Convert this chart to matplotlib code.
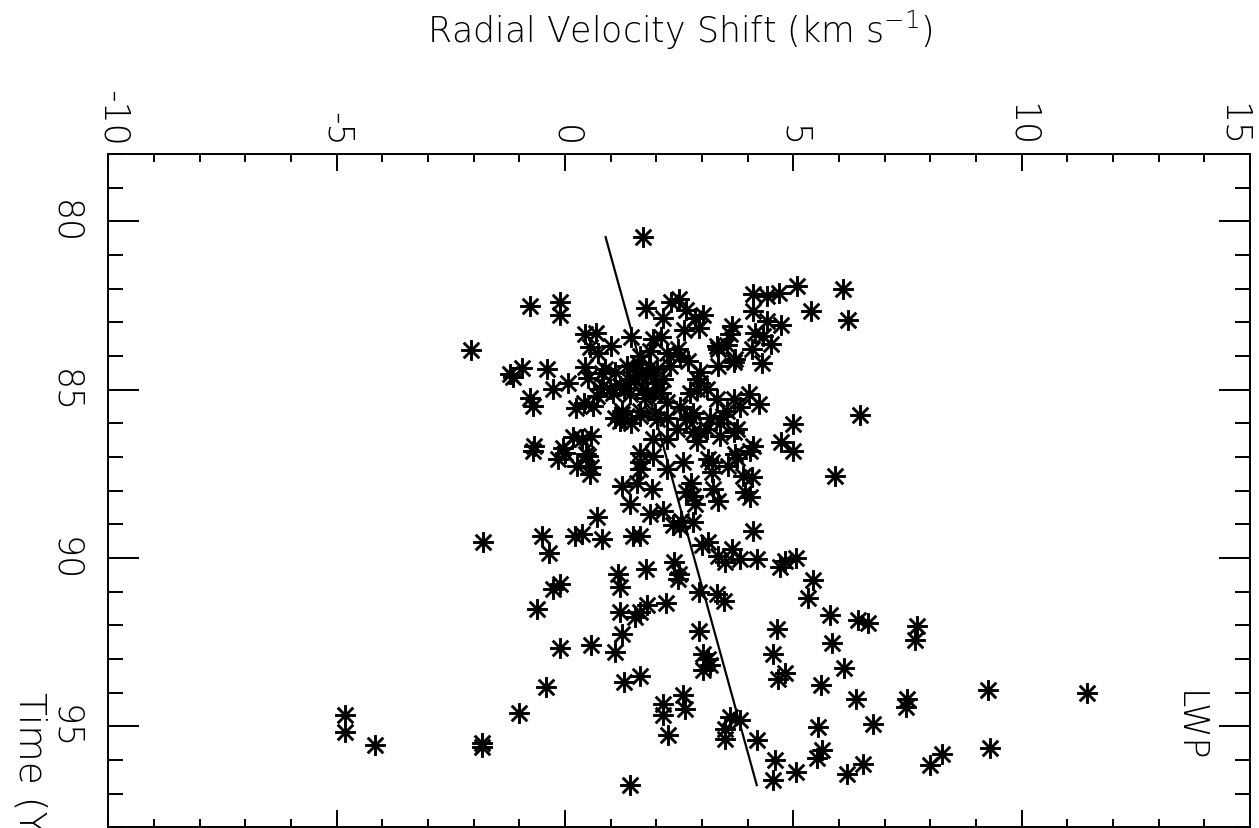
"""Radial velocity shift vs time (LWP), rotated IDL-style scatter with linear trend."""

import matplotlib
matplotlib.use("Agg")
import matplotlib.pyplot as plt
import matplotlib.transforms as mtransforms
from matplotlib.path import Path
import numpy as np

# radial velocity shift (km/s) and epoch (years since 1900)
velocity = [
    1.71, 5.09, 6.09, 5.39, 6.19, 4.69, 4.42, 4.12, 4.12, 4.42,
    4.73, 4.16, 4.34, 4.51, 4.09, 4.32, 4.02, 4.25, 6.46, 4.99,
    4.74, 5.00, 4.12, 5.91, 4.09, 4.05, 4.12, 4.20, 4.71, 4.82,
    5.05, 5.44, 5.31, 5.80, 6.42, 6.64, 4.64, 7.70, 7.66, 5.84,
    4.56, 6.12, 4.82, 4.67, 5.60, 9.26, 11.42, 6.37, 7.48, 7.47,
    6.74, 5.55, 4.20, 5.62, 5.51, 9.31, 8.25, 7.99, 4.60, 5.05,
    4.56, 6.53, 6.18,
    -1.79, -0.51, -0.36, 0.22, 0.37, 0.80, 0.69, 1.50, 1.64, 1.17,
    1.20, 1.77, 2.39, 2.50, 2.48, -0.11, -0.26, -0.61, 1.20, 1.79,
    1.53, 1.64, 2.21, 1.24, 1.09, 0.58, -0.12, -0.42, -1.00, -1.82,
    -1.82, 1.29, 1.64, 2.94, 3.03, 3.14, 3.02, 3.17, 2.94, 3.32,
    3.48, 2.14, 2.15, 2.58, 2.63, 2.25, 3.61, 3.83, 3.50, 3.50,
    1.42, 3.83, 3.50, 3.65, 3.36, 3.14, 2.99, 2.52, 2.55, 2.81,
    2.36, 2.15, 1.86, 1.42, 1.24, 1.57, 1.90, 2.59, 2.77, 2.81,
    2.66, 3.25, 3.36, 3.21, 3.14, 3.58, 3.90, 3.94, 3.76, 4.05,
    1.64, 0.51, 0.58, 0.55, 0.26, -0.15, -0.69, 0.00, 2.23, 1.93,
    -2.05, -0.77, -0.11, -0.12, 1.77, 2.15, 2.32, 2.50, 2.66, 2.85,
    3.03, 2.94, 2.61, 1.44, 0.43, 0.67, 0.55, 0.73, 1.00, 1.93,
    2.10, 2.47, -1.13, -0.95, -0.40, 0.07, -0.27, -0.77, -0.69, 0.44,
    0.51, 0.82, 0.69, 0.99, 0.24, 0.42, 0.62, 1.24, 1.20, -0.68,
    -0.05, 0.18, 0.37, 0.56, 0.47, 1.64, 1.93, 2.23, 2.74, 2.88,
    2.96, 3.36, 3.69, 3.32, 2.88, 3.32, 3.69, 2.66, 2.81, 3.10,
    3.39, 3.69, 3.72, 3.21, 2.23, 2.45, 2.01,
    3.65, 3.61, 3.36, 3.54, 3.72, 2.96, 2.70, 2.52, 2.23, 1.86,
    1.64, 1.35, 1.09, 0.88, 0.84, 1.20, 1.53, 1.79, 2.01, 2.15,
    1.71, 1.93, 1.42, 1.06, 2.52, 1.64, 1.24, 3.10, 3.83, 3.54,
    2.81, 0.77, -1.20,
    1.28, 1.64, 1.97, 2.23, 2.74, 3.18, 3.47, 2.96, 2.88, 3.39,
    3.76, 1.64, 2.85,
    -4.82, -4.82, -4.16,
    1.55, 1.85, 2.00, 1.40, 1.75, 2.10, 1.30, 1.60, 2.30, 1.10,
    1.45,
]
epoch = [
    80.47, 81.93, 82.02, 82.67, 82.94, 82.12, 82.22, 82.17, 82.67, 82.96,
    83.09, 83.31, 83.41, 83.63, 83.80, 84.22, 85.14, 85.43, 85.75, 86.03,
    86.55, 86.82, 86.67, 87.56, 87.61, 88.19, 89.19, 90.03, 90.28, 90.08,
    90.01, 90.67, 91.19, 91.71, 91.83, 91.93, 92.10, 92.01, 92.45, 92.52,
    92.85, 93.27, 93.41, 93.59, 93.77, 93.91, 94.01, 94.18, 94.18, 94.43,
    94.92, 95.02, 95.42, 95.71, 95.94, 95.66, 95.84, 96.16, 96.01, 96.35,
    96.60, 96.11, 96.43,
    89.52, 89.36, 89.85, 89.36, 89.29, 89.44, 88.79, 89.34, 89.34, 90.47,
    90.87, 90.33, 90.13, 90.47, 90.62, 90.77, 90.92, 91.51, 91.61, 91.41,
    91.76, 91.61, 91.33, 92.25, 92.80, 92.60, 92.68, 93.85, 94.60, 95.51,
    95.61, 93.69, 93.52, 92.18, 92.85, 92.99, 93.34, 93.19, 91.02, 91.07,
    91.29, 94.33, 94.68, 94.08, 94.50, 95.27, 94.72, 94.82, 95.07, 95.37,
    96.75, 90.03, 90.13, 89.73, 89.93, 89.53, 89.63, 89.09, 88.89, 88.94,
    89.02, 88.60, 88.70, 88.40, 87.86, 87.76, 87.95, 87.16, 87.76, 88.15,
    88.05, 87.95, 88.30, 87.46, 87.07, 87.26, 87.56, 88.05, 87.02, 86.82,
    87.16, 86.97, 87.31, 87.51, 87.26, 87.07, 86.82, 86.87, 87.36, 86.97,
    83.81, 82.51, 82.40, 82.77, 82.57, 82.86, 82.40, 82.32, 82.62, 82.86,
    82.77, 83.16, 83.23, 83.43, 83.36, 83.31, 83.73, 83.90, 83.71, 83.51,
    83.44, 83.80, 84.62, 84.35, 84.40, 84.79, 84.99, 85.24, 85.50, 84.32,
    84.66, 84.52, 85.19, 84.99, 85.55, 85.40, 85.48, 85.73, 85.93, 86.67,
    86.72, 86.42, 86.47, 86.37, 86.90, 87.36, 86.47, 85.38, 85.09, 84.69,
    84.49, 84.30, 84.18, 83.71, 84.99, 85.29, 85.29, 85.88, 86.27, 86.18,
    85.98, 86.27, 86.92, 87.16, 86.47, 86.18, 85.88,
    83.11, 83.36, 83.80, 83.66, 84.10, 84.79, 84.15, 84.00, 83.90, 83.85,
    84.00, 84.30, 84.49, 84.40, 84.89, 84.89, 84.69, 84.60, 84.40, 84.69,
    84.99, 85.09, 85.14, 85.09, 85.53, 85.63, 85.63, 84.99, 85.53, 85.63,
    85.68, 84.99, 84.55,
    85.83, 85.78, 85.68, 85.83, 85.78, 85.83, 85.78, 86.27, 86.52, 86.37,
    86.18, 86.87, 88.40,
    94.68, 95.16, 95.57,
    84.45, 84.35, 84.80, 84.70, 85.25, 85.10, 84.95, 84.20, 84.30, 85.85,
    86.00,
]

# linear trend: v = fit_v0 + fit_slope * (t - 80)
fit_v0 = 0.794
fit_slope = 0.2033
fit_epoch = [80.47, 96.75]

x_lim = (-10, 15)
y_lim = (98, 78)
x_major = [-10, -5, 0, 5, 10, 15]
y_major = [80, 85, 90, 95]
label_text = "LWP"
label_pos = (13.65, 95.0)

# IDL-style asterisk: plus sign overlaid with an x
star = Path(
    [(-1, 0), (1, 0), (0, -1), (0, 1),
     (-0.75, -0.75), (0.75, 0.75), (-0.75, 0.75), (0.75, -0.75)],
    [Path.MOVETO, Path.LINETO] * 4,
)

plt.rcParams["font.family"] = "DejaVu Sans"
plt.rcParams["font.weight"] = 200

fig = plt.figure(figsize=(12.59, 8.29), dpi=100)
ax = fig.add_axes([0.0860, 0.001, 0.9069, 0.812])

ax.plot(velocity, epoch, linestyle="none", marker=star, markersize=15,
        markeredgewidth=2.1, color="black")

fit_t = np.array(fit_epoch)
ax.plot(fit_v0 + fit_slope * (fit_t - 80), fit_t, color="black", linewidth=1.6)

ax.set_xlim(*x_lim)
ax.set_ylim(*y_lim)
ax.set_xticks(x_major)
ax.set_yticks(y_major)
ax.set_xticks(np.arange(x_lim[0], x_lim[1] + 1, 1), minor=True)
ax.set_yticks(np.arange(78, 99, 1), minor=True)
ax.set_xticklabels([str(v) for v in x_major], rotation=-90)
ax.set_yticklabels([str(v) for v in y_major], rotation=-90, va="center")

ax.tick_params(axis="x", which="both", direction="in", top=True, bottom=True,
               labeltop=True, labelbottom=False, width=1.4, labelsize=25, pad=6)
ax.tick_params(axis="x", which="major", length=12)
ax.tick_params(axis="x", which="minor", length=6)
ax.tick_params(axis="y", which="both", direction="in", left=True, right=True,
               labelleft=True, labelright=False, width=1.4, labelsize=25, pad=19)
ax.tick_params(axis="y", which="major", length=22)
ax.tick_params(axis="y", which="minor", length=11)
for spine in ax.spines.values():
    spine.set_linewidth(1.4)

# end labels sit inside the frame edges, as in the original
major_ticks = ax.xaxis.get_major_ticks()
first = major_ticks[0].label2
first.set_horizontalalignment("left")
first.set_transform(first.get_transform()
                    + mtransforms.ScaledTranslation(-0.13, 0, fig.dpi_scale_trans))
major_ticks[-1].label2.set_horizontalalignment("right")

ax.text(label_pos[0], label_pos[1], label_text, rotation=-90, fontsize=25,
        ha="center", va="center")

fig.text(680 / 1259, 1 - 30 / 829, "Radial Velocity Shift (km s$^{-1}$)",
         fontsize=25, ha="center", va="center")
fig.text(30 / 1259, 1 - 692 / 829, "Time (Years)", rotation=-90, fontsize=27,
         ha="center", va="top")

fig.savefig("out.png", dpi=100)
plt.close(fig)
